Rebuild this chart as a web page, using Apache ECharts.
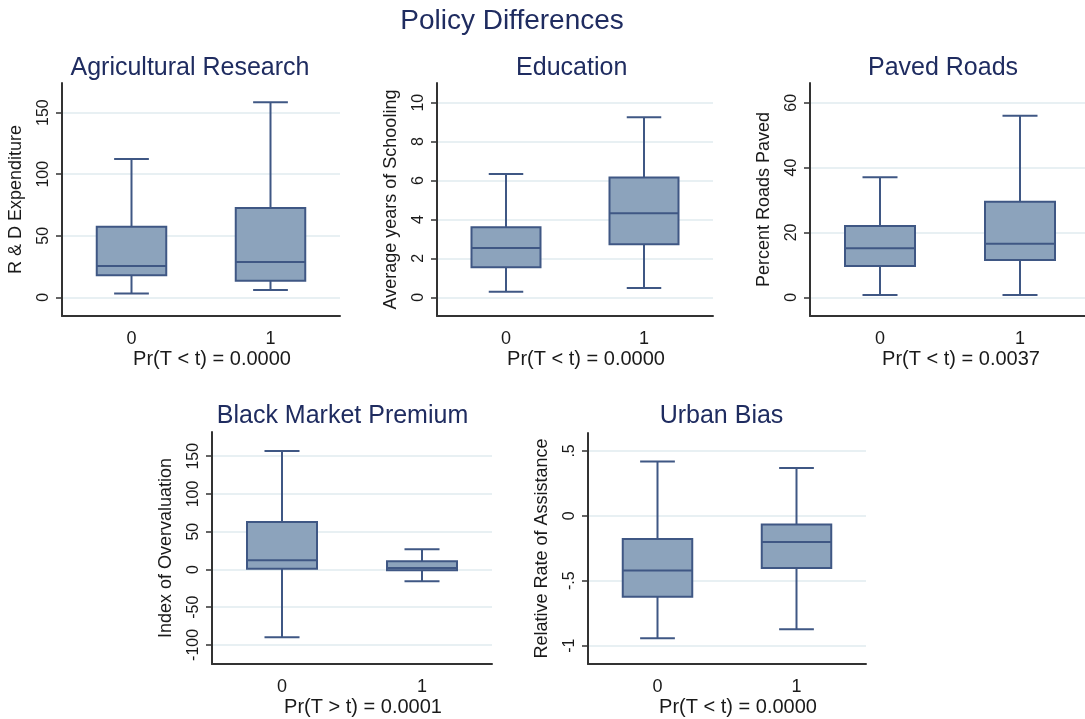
<!DOCTYPE html>
<html><head><meta charset="utf-8">
<script src="https://cdn.jsdelivr.net/npm/echarts@6/dist/echarts.min.js"></script>
<style>html,body{margin:0;padding:0;background:#fff}#c{width:1085px;height:719px}</style>
</head><body><div id="c"></div>
<script>
// ---- data ----
const categories = ['0', '1'];
// each box: [lower whisker, Q1, median, Q3, upper whisker]
const agriValues  = [[3, 17.9, 25.4, 57.4, 112.4], [6, 13.5, 28.7, 72.6, 158.4]];
const eduValues   = [[0.29, 1.54, 2.53, 3.6, 6.34], [0.48, 2.72, 4.32, 6.15, 9.25]];
const roadValues  = [[0.7, 9.65, 15.1, 22.0, 37.0], [0.7, 11.5, 16.5, 29.5, 56.0]];
const bmpValues   = [[-90, 0.9, 12.3, 63, 157], [-15.5, -1, 2, 11, 26.7]];
const urbanValues = [[-0.943, -0.623, -0.42, -0.179, 0.418], [-0.874, -0.402, -0.202, -0.066, 0.369]];

const agriTicks  = [0, 50, 100, 150];
const eduTicks   = [0, 2, 4, 6, 8, 10];
const roadTicks  = [0, 20, 40, 60];
const bmpTicks   = [-100, -50, 0, 50, 100, 150];
const urbanTicks = [-1, -0.5, 0, 0.5];

const panelTitles = ['Agricultural Research', 'Education', 'Paved Roads', 'Black Market Premium', 'Urban Bias'];
const yNames = ['R & D Expenditure', 'Average years of Schooling', 'Percent Roads Paved', 'Index of Overvaluation', 'Relative Rate of Assistance'];
const xNames = ['Pr(T < t) = 0.0000', 'Pr(T < t) = 0.0000', 'Pr(T < t) = 0.0037', 'Pr(T > t) = 0.0001', 'Pr(T < t) = 0.0000'];
const mainTitle = 'Policy Differences';

// ---- layout / style ----
const valuesList = [agriValues, eduValues, roadValues, bmpValues, urbanValues];
const ticksList = [agriTicks, eduTicks, roadTicks, bmpTicks, urbanTicks];
const layout = [
  {grid: {left: 62,  top: 83,  width: 278, height: 233}, range: [-15.2, 174.1], tx: 190,   ty: 55.5},
  {grid: {left: 437, top: 83,  width: 276, height: 233}, range: [-0.96, 11.01], tx: 571.7, ty: 55.5},
  {grid: {left: 810, top: 83,  width: 280, height: 233}, range: [-5.77, 66.1],  tx: 943,   ty: 55.5},
  {grid: {left: 212, top: 432, width: 280, height: 232}, range: [-125.3, 182.1], tx: 342.5, ty: 404},
  {grid: {left: 588, top: 433, width: 278, height: 231}, range: [-1.141, 0.638], tx: 721.5, ty: 404}
];
const FONT = "'Liberation Sans', Arial, sans-serif";
const TITLE_COLOR = '#1f2c60';
const FILL = '#8ca3bc';
const BORDER = '#3f5784';
const AXIS_COLOR = '#333333';
const GRID_COLOR = '#e8f0f3';
const BOX_FRAC = 0.5, CAP_FRAC = 0.25;

function fmtTick(v) {
  let s = String(v);
  s = s.replace(/^0\./, '.').replace(/^-0\./, '-.');
  return s;
}

function renderItem(params, api) {
  const c = api.value(0);
  const v = [1, 2, 3, 4, 5].map(k => api.value(k));
  const band = api.size([1, 0])[0];
  const half = band * BOX_FRAC / 2, capHalf = band * CAP_FRAC / 2;
  const pts = v.map(val => api.coord([c, val]));
  const cx = pts[0][0];
  const y = pts.map(q => q[1]);
  const st = {stroke: BORDER, lineWidth: 2, fill: null};
  return {type: 'group', children: [
    {type: 'line', shape: {x1: cx, y1: y[0], x2: cx, y2: y[1]}, style: st},
    {type: 'line', shape: {x1: cx, y1: y[3], x2: cx, y2: y[4]}, style: st},
    {type: 'line', shape: {x1: cx - capHalf, y1: y[0], x2: cx + capHalf, y2: y[0]}, style: st},
    {type: 'line', shape: {x1: cx - capHalf, y1: y[4], x2: cx + capHalf, y2: y[4]}, style: st},
    {type: 'rect', shape: {x: cx - half, y: y[3], width: 2 * half, height: y[1] - y[3]}, style: {fill: FILL, stroke: BORDER, lineWidth: 2}},
    {type: 'line', shape: {x1: cx - half, y1: y[2], x2: cx + half, y2: y[2]}, style: st}
  ]};
}

const option = {
  backgroundColor: '#ffffff',
  animation: false,
  title: [{text: mainTitle, left: 512, top: 7, textAlign: 'center', padding: 0,
           textStyle: {fontFamily: FONT, fontSize: 28, fontWeight: 'normal', color: TITLE_COLOR}}]
    .concat(panelTitles.map((t, i) => ({text: t, left: layout[i].tx, top: layout[i].ty, textAlign: 'center', padding: 0,
           textStyle: {fontFamily: FONT, fontSize: 25, fontWeight: 'normal', color: TITLE_COLOR}}))),
  grid: layout.map(l => Object.assign({containLabel: false, outerBoundsMode: 'none'}, l.grid)),
  xAxis: layout.map((l, i) => ({
    type: 'category', gridIndex: i, data: categories, boundaryGap: true,
    name: xNames[i], nameLocation: 'middle', nameGap: 33,
    nameTextStyle: {fontFamily: FONT, fontSize: 20, color: '#1a1a1a', padding: [0, 0, 0, 22]},
    nameMoveOverlap: false,
    axisLine: {show: true, onZero: false, lineStyle: {color: AXIS_COLOR, width: 2}},
    axisTick: {show: false},
    axisLabel: {fontFamily: FONT, fontSize: 18, color: '#1a1a1a', margin: 14},
    splitLine: {show: false}
  })),
  yAxis: layout.map((l, i) => ({
    type: 'value', gridIndex: i, min: l.range[0], max: l.range[1],
    name: yNames[i], nameLocation: 'middle', nameGap: 37, nameRotate: 90,
    nameMoveOverlap: false,
    nameTextStyle: {fontFamily: FONT, fontSize: 18, color: '#1a1a1a'},
    axisLine: {show: true, onZero: false, lineStyle: {color: AXIS_COLOR, width: 2}},
    axisTick: {show: true, length: 6, customValues: ticksList[i], lineStyle: {color: AXIS_COLOR, width: 1.5}},
    axisLabel: {fontFamily: FONT, fontSize: 16, color: '#1a1a1a', rotate: 90, margin: 10,
                customValues: ticksList[i], formatter: fmtTick},
    splitLine: {show: true, lineStyle: {color: GRID_COLOR, width: 2}}
  })),
  series: valuesList.map((vals, i) => ({
    type: 'custom', xAxisIndex: i, yAxisIndex: i, silent: true,
    renderItem: renderItem,
    encode: {x: 0, y: [1, 2, 3, 4, 5]},
    data: vals.map((v, j) => [j].concat(v))
  }))
};

const chart = echarts.init(document.getElementById('c'), null, {renderer: 'canvas'});
chart.setOption(option);
</script></body></html>
